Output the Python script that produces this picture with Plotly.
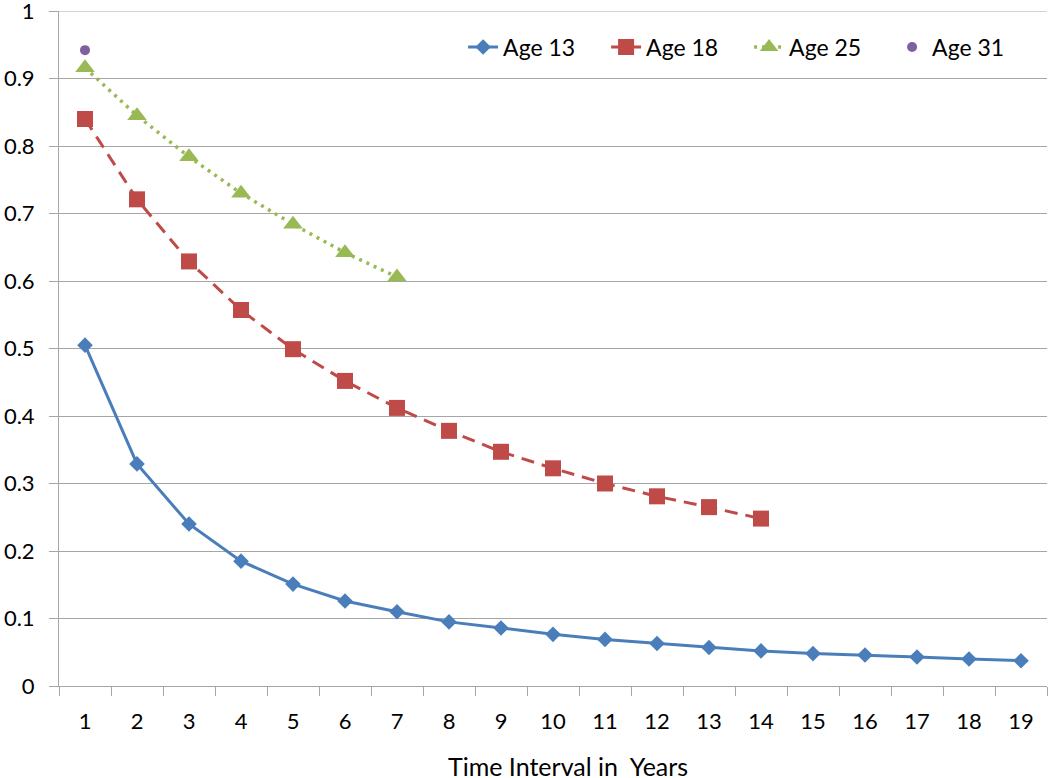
import plotly.graph_objects as go

categories = [str(i) for i in range(1, 20)]

age13 = [0.505, 0.329, 0.240, 0.185, 0.151, 0.126, 0.110, 0.095, 0.086, 0.0765,
         0.069, 0.063, 0.057, 0.052, 0.048, 0.046, 0.043, 0.040, 0.0375]
age18 = [0.840, 0.721, 0.629, 0.557, 0.499, 0.452, 0.412, 0.378, 0.347, 0.3225,
         0.300, 0.281, 0.265, 0.248]
age25 = [0.916, 0.845, 0.784, 0.730, 0.684, 0.642, 0.606]
age31 = [0.942]

y_tickvals = [i / 10 for i in range(11)]
y_ticktext = ["0", "0.1", "0.2", "0.3", "0.4", "0.5", "0.6", "0.7", "0.8", "0.9", "1"]

FONT = "Lato"
GRID = "#A6A6A6"

fig = go.Figure()
fig.add_trace(go.Scatter(
    x=categories[:len(age13)], y=age13, name="Age 13", mode="lines+markers",
    line=dict(color="#4A7EBB", width=3),
    marker=dict(symbol="diamond", size=12, color="#4A7EBB"), cliponaxis=False))
fig.add_trace(go.Scatter(
    x=categories[:len(age18)], y=age18, name="Age 18", mode="lines+markers",
    line=dict(color="#BE4B48", width=3, dash="13px,8px"),
    marker=dict(symbol="square", size=16, color="#BE4B48"), cliponaxis=False))
fig.add_trace(go.Scatter(
    x=categories[:len(age25)], y=age25, name="Age 25", mode="lines+markers",
    line=dict(color="#98B954", width=3.5, dash="3px,5px"),
    marker=dict(symbol="triangle-up", size=17, color="#98B954"), cliponaxis=False))
fig.add_trace(go.Scatter(
    x=categories[:len(age31)], y=age31, name="Age 31", mode="markers",
    marker=dict(symbol="circle", size=10, color="#7D60A0"), cliponaxis=False))

fig.update_layout(
    width=1050, height=778,
    margin=dict(l=59, r=3, t=11, b=92, autoexpand=False),
    paper_bgcolor="white", plot_bgcolor="white",
    font=dict(family=FONT, size=22, color="black"),
    showlegend=True,
    legend=dict(orientation="h", x=0.409, xanchor="left", y=0.9467, yanchor="middle",
                bgcolor="rgba(0,0,0,0)", entrywidth=98, entrywidthmode="pixels",
                font=dict(family=FONT, size=23, color="black"), itemsizing="trace"),
    annotations=[dict(text="Time Interval in \u00a0Years", xref="paper", yref="paper",
                      x=0.515, y=-0.118, xanchor="center", yanchor="middle",
                      showarrow=False, font=dict(family=FONT, size=25, color="black"))],
    shapes=[dict(type="line", xref="paper", yref="y", x0=0, x1=1, y0=1, y1=1,
                 line=dict(color=GRID, width=1), layer="below")],
)
fig.update_xaxes(
    type="category", categoryorder="array", categoryarray=categories,
    range=[-0.5, 18.5], showgrid=False, showline=True, linecolor=GRID, linewidth=1,
    ticks="outside", tickson="boundaries", ticklen=9, tickcolor=GRID,
    tickfont=dict(family=FONT, size=22), ticklabelstandoff=16, zeroline=False,
    automargin=False)
fig.update_yaxes(
    range=[0, 1], tickvals=y_tickvals, ticktext=y_ticktext,
    showgrid=True, gridcolor=GRID, gridwidth=1, showline=True, linecolor=GRID,
    linewidth=1, ticks="outside", ticklen=9, tickcolor=GRID,
    tickfont=dict(family=FONT, size=22), ticklabelstandoff=10, zeroline=False,
    ticklabeloverflow="allow", automargin=False)

fig.write_html("out.html", config={"displayModeBar": False},
               post_script="document.body.style.margin='0';")
